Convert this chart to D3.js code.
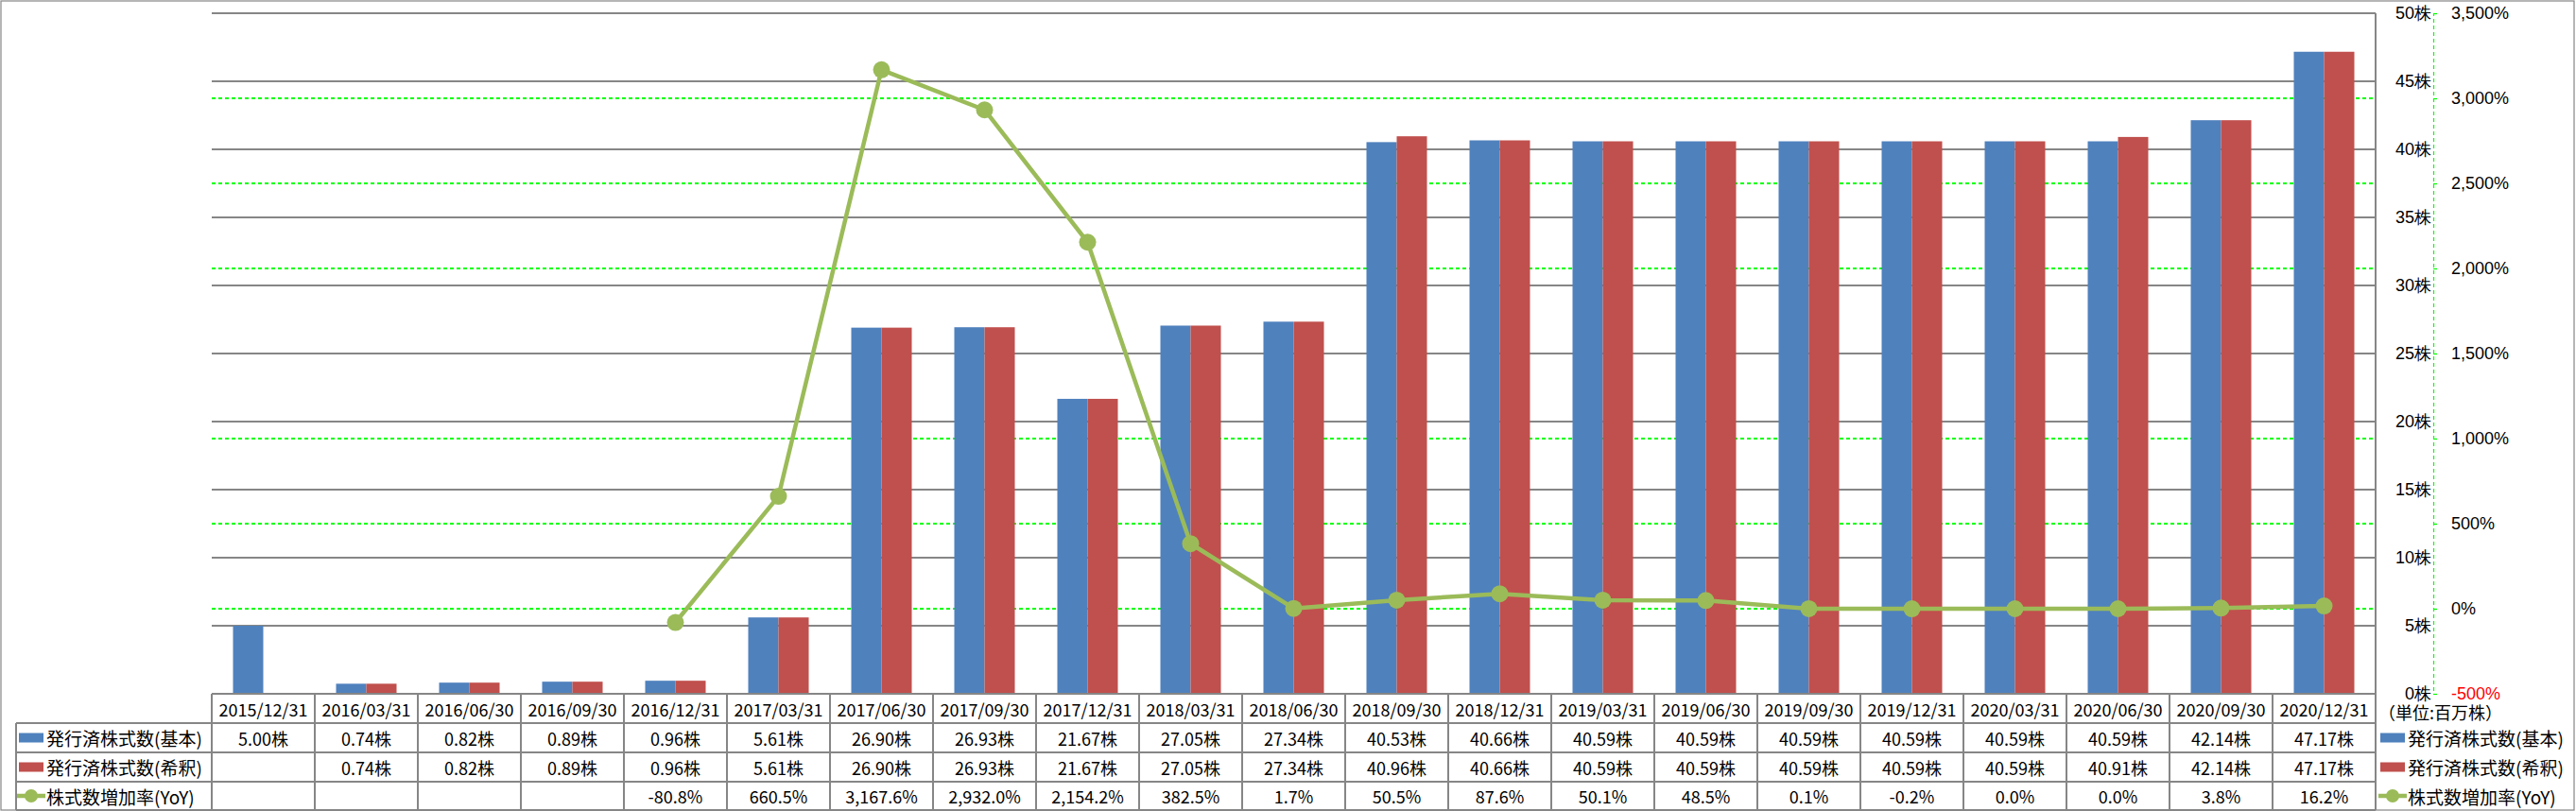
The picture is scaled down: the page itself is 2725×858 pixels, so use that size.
<!DOCTYPE html>
<html><head><meta charset="utf-8">
<script src="https://cdn.jsdelivr.net/npm/d3@7"></script>
<style>
body{margin:0;background:#fff;}
svg{display:block;font-family:"Noto Sans CJK JP","Noto Sans",sans-serif;}
line.g{shape-rendering:crispEdges;}
</style></head>
<body><svg id="c" width="2725" height="858"></svg>
<script>
const categories = ["2015/12/31","2016/03/31","2016/06/30","2016/09/30","2016/12/31","2017/03/31","2017/06/30","2017/09/30","2017/12/31","2018/03/31","2018/06/30","2018/09/30","2018/12/31","2019/03/31","2019/06/30","2019/09/30","2019/12/31","2020/03/31","2020/06/30","2020/09/30","2020/12/31"];
const basicShares = [5.00,0.74,0.82,0.89,0.96,5.61,26.90,26.93,21.67,27.05,27.34,40.53,40.66,40.59,40.59,40.59,40.59,40.59,40.59,42.14,47.17];
const dilutedShares = [null,0.74,0.82,0.89,0.96,5.61,26.90,26.93,21.67,27.05,27.34,40.96,40.66,40.59,40.59,40.59,40.59,40.59,40.91,42.14,47.17];
const yoyGrowth = [null,null,null,null,-80.8,660.5,3167.6,2932.0,2154.2,382.5,1.7,50.5,87.6,50.1,48.5,0.1,-0.2,0.0,0.0,3.8,16.2];
const seriesNames = ["発行済株式数(基本)","発行済株式数(希釈)","株式数増加率(YoY)"];
const shareTicks = [0,5,10,15,20,25,30,35,40,45,50];
const pctTicks = [-500,0,500,1000,1500,2000,2500,3000,3500];
const unitLabel = "（単位:百万株）";

const colors = ["#4F81BD","#C0504D","#9BBB59"];
const svg = d3.select("#c");
const L = 224, R = 2513, T = 14, B = 734;
const gridCol = "#868686";
const fs = 18;
const sw = 1.2;
const loc = d3.formatLocale({decimal:".",thousands:",",grouping:[3],currency:["",""],minus:"-"});

const x = d3.scaleBand().domain(categories).range([L, R]);
const xi = d3.scaleBand().domain([0,1]).range([0, x.bandwidth()]).paddingOuter(0.703);
const yS = d3.scaleLinear().domain([0,50]).range([B, T]);
const yP = d3.scaleLinear().domain([-500,3500]).range([B, T]);

svg.append("rect").attr("x",1).attr("y",1).attr("width",2722).attr("height",856)
  .attr("fill","none").attr("stroke",gridCol).attr("stroke-width",sw);

svg.append("g").selectAll("line").data(pctTicks).join("line").attr("class","g")
  .attr("x1",L).attr("x2",R).attr("y1",d=>yP(d)).attr("y2",d=>yP(d))
  .attr("stroke","#00FF00").attr("stroke-width",sw).attr("stroke-dasharray","4,3");
svg.append("g").selectAll("line").data(shareTicks).join("line").attr("class","g")
  .attr("x1",L).attr("x2",R).attr("y1",d=>yS(d)).attr("y2",d=>yS(d))
  .attr("stroke",gridCol).attr("stroke-width",sw);
svg.append("line").attr("class","g").attr("x1",R).attr("x2",R).attr("y1",T).attr("y2",857)
  .attr("stroke",gridCol).attr("stroke-width",sw);

const series = [basicShares, dilutedShares];
series.forEach((arr,si)=>{
  svg.append("g").selectAll("rect").data(categories.map((c,i)=>({c,v:arr[i]})).filter(d=>d.v!=null)).join("rect")
    .attr("x",d=>x(d.c)+xi(si)).attr("width",xi.bandwidth())
    .attr("y",d=>yS(d.v)).attr("height",d=>B-yS(d.v))
    .attr("fill",colors[si]);
});

const pts = categories.map((c,i)=>({c,v:yoyGrowth[i]})).filter(d=>d.v!=null);
svg.append("path").datum(pts)
  .attr("d", d3.line().x(d=>x(d.c)+x.bandwidth()/2).y(d=>yP(d.v)))
  .attr("fill","none").attr("stroke",colors[2]).attr("stroke-width",4.5).attr("stroke-linejoin","round");
svg.append("g").selectAll("circle").data(pts).join("circle")
  .attr("cx",d=>x(d.c)+x.bandwidth()/2).attr("cy",d=>yP(d.v)).attr("r",9)
  .attr("fill",colors[2]);

const AX = 2574;
const gP = svg.append("g").attr("transform",`translate(${AX},0)`)
  .call(d3.axisRight(yP).tickValues(pctTicks).tickSize(4).tickPadding(15)
    .tickFormat(d=>loc.format(",")(d)+"%"));
gP.select(".domain").attr("stroke","#00FF00").attr("stroke-width",sw).attr("stroke-dasharray","4,3");
gP.selectAll(".tick line").attr("stroke","#00FF00").attr("stroke-width",sw);
gP.selectAll("text").attr("font-size",fs).attr("font-family",null).attr("fill",d=>d<0?"#FF0000":"#000");

const gS = svg.append("g").attr("transform",`translate(${AX-2},0)`)
  .call(d3.axisLeft(yS).tickValues(shareTicks).tickSize(0).tickPadding(0)
    .tickFormat(d=>d+"株"));
gS.select(".domain").remove();
gS.selectAll("text").attr("font-size",fs).attr("font-family",null).attr("fill","#000");

const rowY = [734,765,796,827,857];
const tbl = svg.append("g");
tbl.append("line").attr("class","g").attr("x1",L).attr("x2",R).attr("y1",rowY[0]).attr("y2",rowY[0]).attr("stroke",gridCol).attr("stroke-width",sw);
for(let r=1;r<5;r++){
  tbl.append("line").attr("class","g").attr("x1",17).attr("x2",R).attr("y1",rowY[r]).attr("y2",rowY[r]).attr("stroke",gridCol).attr("stroke-width",sw);
}
tbl.selectAll("line.v").data(categories).join("line").attr("class","v g")
  .attr("x1",d=>x(d)).attr("x2",d=>x(d)).attr("y1",rowY[0]).attr("y2",rowY[4])
  .attr("stroke",gridCol).attr("stroke-width",sw);
tbl.append("line").attr("class","g").attr("x1",17).attr("x2",17).attr("y1",rowY[1]).attr("y2",rowY[4]).attr("stroke",gridCol).attr("stroke-width",sw);

tbl.selectAll("text.h").data(categories).join("text").attr("class","h")
  .attr("x",d=>x(d)+x.bandwidth()/2).attr("y",(rowY[0]+rowY[1])/2)
  .attr("text-anchor","middle").attr("dominant-baseline","central").attr("font-size",fs).text(d=>d);

const fmtS = loc.format(".2f");
const fmtP = loc.format(",.1f");
const rows = [
  basicShares.map(v=>v==null?"":fmtS(v)+"株"),
  dilutedShares.map(v=>v==null?"":fmtS(v)+"株"),
  yoyGrowth.map(v=>v==null?"":fmtP(v)+"%")
];
rows.forEach((vals,ri)=>{
  const cy = (rowY[ri+1]+rowY[ri+2])/2;
  tbl.append("g").selectAll("text").data(categories).join("text")
    .attr("x",d=>x(d)+x.bandwidth()/2).attr("y",cy)
    .attr("text-anchor","middle").attr("dominant-baseline","central").attr("font-size",fs)
    .text((d,i)=>vals[i]);
});

function key(g,i,kx,cy){
  if(i<2){
    g.append("rect").attr("x",kx).attr("y",cy-5).attr("width",26).attr("height",10).attr("fill",colors[i]);
  } else {
    g.append("line").attr("x1",kx-2).attr("x2",kx+28).attr("y1",cy).attr("y2",cy).attr("stroke",colors[2]).attr("stroke-width",4.5);
    g.append("circle").attr("cx",kx+13).attr("cy",cy).attr("r",7).attr("fill",colors[2]);
  }
  g.append("text").attr("x",kx+29).attr("y",cy).attr("dominant-baseline","central")
    .attr("font-size",19).text(seriesNames[i]);
}
seriesNames.forEach((n,i)=>{
  const cy = (rowY[i+1]+rowY[i+2])/2;
  key(svg,i,20,cy);
  key(svg,i,2518,cy);
});
svg.append("text").attr("x",2516).attr("y",753).attr("dominant-baseline","central")
  .attr("font-size",18).text(unitLabel);
</script></body></html>
